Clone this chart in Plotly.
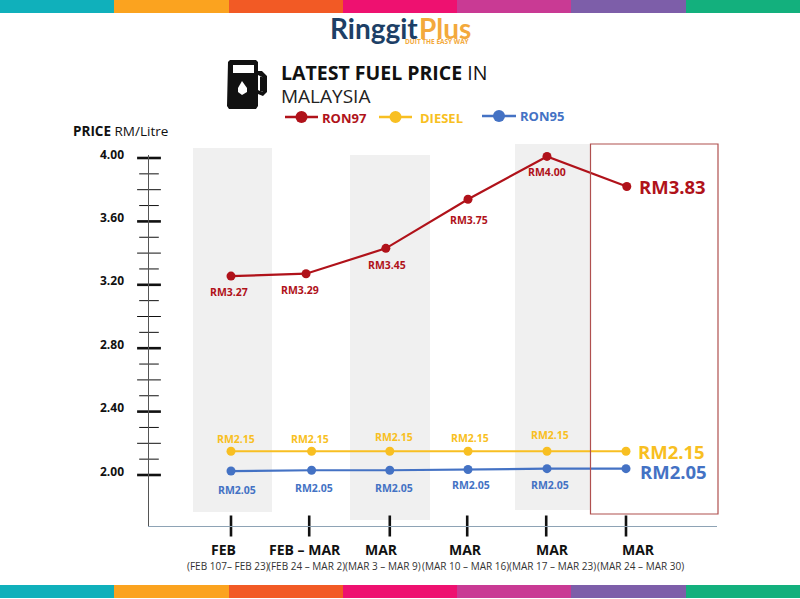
import plotly.graph_objects as go

categories = ["FEB", "FEB – MAR", "MAR", "MAR", "MAR", "MAR"]
date_ranges = ["(FEB 107– FEB 23)", "(FEB 24 – MAR 2)", "(MAR 3 – MAR 9)",
               "(MAR 10 – MAR 16)", "(MAR 17 – MAR 23)", "(MAR 24 – MAR 30)"]
tick_x = [0, 0.99, 2.01, 2.99, 3.99, 5]
ron97_x = [0, 0.95, 1.96, 3, 4, 5.01]
fuel_x = [0, 1.02, 2.01, 3, 4, 5]
ron97 = [3.255, 3.27, 3.43, 3.74, 4.01, 3.82]
diesel = [2.15, 2.15, 2.15, 2.15, 2.15, 2.15]
ron95 = [2.025, 2.03, 2.03, 2.035, 2.04, 2.04]
ron97_labels = ["RM3.27", "RM3.29", "RM3.45", "RM3.75", "RM4.00", "RM3.83"]
diesel_labels = ["RM2.15"] * 6
ron95_labels = ["RM2.05"] * 6
major_ticks = [2.0, 2.4, 2.8, 3.2, 3.6, 4.0]
mid_ticks = [2.2, 2.6, 3.0, 3.4, 3.8]
minor_ticks = [2.1, 2.3, 2.5, 2.7, 2.9, 3.1, 3.3, 3.5, 3.7, 3.9]
stripe_colors = ["#10b0bb", "#fba31f", "#f25a25", "#ee1170", "#c93a94", "#7d5ea9", "#13b07d"]

RED, YEL, BLUE = "#b0121a", "#f8bf22", "#4472c4"
FONT = "Open Sans"
L, R, T, B = 149, 717, 155, 526

def px(x): return (x - L) / (R - L)
def py(y): return (B - y) / (B - T)
x0_val = (L - 231) / 79
x1_val = (R - 231) / 79
y0_val = 2 - (B - 475) / 158.5
y1_val = 2 + (475 - T) / 158.5

fig = go.Figure()
names = ["RON97", "DIESEL", "RON95"]
for nm, xs, vals, col in zip(names, [ron97_x, fuel_x, fuel_x], [ron97, diesel, ron95], [RED, YEL, BLUE]):
    fig.add_trace(go.Scatter(x=xs, y=vals, name=nm, mode="lines+markers", cliponaxis=False,
                             line=dict(color=col, width=2.2), marker=dict(color=col, size=9)))
for vals, size, w in [(major_ticks, 17, 2.6), (mid_ticks, 17, 1), (minor_ticks, 14, 1)]:
    fig.add_trace(go.Scatter(x=[x0_val] * len(vals), y=vals, mode="markers", cliponaxis=False,
                             hoverinfo="skip",
                             marker=dict(symbol="line-ew", size=size, line=dict(color="#111", width=w))))
fig.add_trace(go.Scatter(x=tick_x, y=[y0_val] * 6, mode="markers", cliponaxis=False, hoverinfo="skip",
                         marker=dict(symbol="line-ns", size=15, line=dict(color="#111", width=2.6))))

shapes = []
ann = []
def rect(x0, y0, x1, y1, fill=None, line=None, lw=0, layer="below"):
    shapes.append(dict(type="rect", xref="paper", yref="paper", x0=px(x0), x1=px(x1), y0=py(y0), y1=py(y1),
                       fillcolor=fill or "rgba(0,0,0,0)", line=dict(color=line or "rgba(0,0,0,0)", width=lw), layer=layer))
def text(x, y, s, size, color="#111", bold=False, anchor="center", family=FONT):
    ann.append(dict(xref="paper", yref="paper", x=px(x), y=py(y), text=f"<b>{s}</b>" if bold else s,
                    showarrow=False, xanchor=anchor, yanchor="middle", align="left",
                    font=dict(size=size, color=color, family=family)))

# stripes
edges = [0, 114, 229, 343, 457, 571, 686, 800]
for i, c in enumerate(stripe_colors):
    rect(edges[i], 0, edges[i + 1], 13, fill=c)
    rect(edges[i], 585, edges[i + 1], 598, fill=c)
# bands
rect(193, 148, 272, 512, fill="#f0f0f0")
rect(350, 155, 430, 520, fill="#f0f0f0")
rect(515, 144, 590, 510, fill="#f0f0f0")
rect(590.5, 144, 718, 514, line="#b0504f", lw=1.2, layer="above")

# data labels
r_dx = [-2, -6, 1, 1, 0]; r_dy = [-16, -16, -17, -21, -16]
d_dx = [5, -2, 4, 2, 3]; d_dy = [12, 12, 14, 13, 16]
b_dx = [6, 2, 4, 3, 3]; b_dy = [-19, -18, -18, -16, -16]
for xs, vals, labs, col, dxs, dys in [(ron97_x, ron97, ron97_labels, RED, r_dx, r_dy),
                                      (fuel_x, diesel, diesel_labels, YEL, d_dx, d_dy),
                                      (fuel_x, ron95, ron95_labels, BLUE, b_dx, b_dy)]:
    for i in range(5):
        ann.append(dict(x=xs[i], y=vals[i], xref="x", yref="y", text=f"<b>{labs[i]}</b>", showarrow=False,
                        xshift=dxs[i], yshift=dys[i], font=dict(size=10.5, color=col, family=FONT)))
    dy = {RED: 0, YEL: 0, BLUE: -3}[col]
    ann.append(dict(x=xs[5], y=vals[5], xref="x", yref="y", text=f"<b>{labs[5]}</b>", showarrow=False,
                    xanchor="left", xshift=10 + (2 if col == BLUE else 0), yshift=dy,
                    font=dict(size=18.5, color=col, family=FONT)))

# y tick labels, sitting a little above their ticks as in the reference
for v in major_ticks:
    ann.append(dict(x=px(125.5), y=v, xref="paper", yref="y", text=f"<b>{v:.2f}</b>", showarrow=False,
                    xanchor="right", yshift=4, font=dict(size=12, color="#111", family=FONT)))

# x labels
for c, cx in zip(categories, [223, 305, 381, 465, 552, 638]):
    text(cx, 549.5, c, 14, bold=True)
for d, cx in zip(date_ranges, [228, 306, 383, 465, 552, 640]):
    text(cx, 566, d, 10, color="#333")

text(71, 131, "<b>PRICE</b> RM/Litre", 13.5, anchor="left")
# logo
text(328, 27.5, "<b>Ringgit</b>", 28, color="#1d3f66", anchor="left", family="Lato")
text(417, 27.5, "<b>Plus</b>", 28, color="#f3a93c", anchor="left", family="Lato")
text(437, 42, "<b>DUIT THE EASY WAY</b>", 6.5, color="#f3a93c", anchor="center")
# heading
text(279, 72, "<b>LATEST FUEL PRICE</b> IN", 19.5, anchor="left")
text(279, 96, "MALAYSIA", 19, color="#222", anchor="left")

# pump icon
def path(pts):
    return " ".join(f"{c} {px(x):.5f},{py(y):.5f}" if c != "Z" else "Z" for c, x, y in pts)
def add_path(pts, fill):
    shapes.append(dict(type="path", xref="paper", yref="paper", path=path(pts), fillcolor=fill,
                       line=dict(width=0), layer="above"))
add_path([("M", 230, 60), ("L", 256, 60), ("L", 258, 62), ("L", 258, 71), ("L", 262, 71), ("L", 267, 76),
          ("L", 267, 92), ("L", 263, 96), ("L", 258, 94), ("L", 258, 106), ("L", 256, 109), ("L", 229, 109),
          ("L", 227, 106), ("L", 228, 62), ("Z", 0, 0)], "#111")
add_path([("M", 258, 75), ("L", 262, 77), ("L", 264, 80), ("L", 264, 90), ("L", 262, 92), ("L", 258, 90), ("Z", 0, 0)], "#fff")
add_path([("M", 260, 76.5), ("L", 265, 78), ("L", 265, 91), ("L", 260, 92), ("Z", 0, 0)], "#111")
add_path([("M", 233, 65), ("L", 254, 65), ("L", 254, 73), ("L", 233, 73), ("Z", 0, 0)], "#fff")
add_path([("M", 242, 81), ("L", 247, 88), ("L", 247, 92), ("L", 242, 95), ("L", 238, 92), ("L", 238, 88), ("Z", 0, 0)], "#fff")

# legend
for x0, x1, y, col, nm, tx in [(285, 318, 117, RED, "RON97", 320), (379, 412, 117, YEL, "DIESEL", 418),
                               (482, 516, 116, BLUE, "RON95", 518)]:
    shapes.append(dict(type="line", xref="paper", yref="paper", x0=px(x0), x1=px(x1), y0=py(y), y1=py(y),
                       line=dict(color=col, width=2.5), layer="above"))
    cx = (x0 + x1) / 2
    shapes.append(dict(type="circle", xref="paper", yref="paper", x0=px(cx - 6), x1=px(cx + 6),
                       y0=py(y - 6), y1=py(y + 6), fillcolor=col, line=dict(width=0), layer="above"))
    text(tx, y + 0.5, nm, 13, color=col, bold=True, anchor="left")

fig.update_layout(
    width=800, height=599, autosize=False, showlegend=False, plot_bgcolor="white", paper_bgcolor="white",
    margin=dict(l=L, r=800 - R, t=T, b=599 - B), shapes=shapes, annotations=ann,
    font=dict(family=FONT),
    xaxis=dict(range=[x0_val, x1_val], showgrid=False, zeroline=False, showticklabels=False, ticks="",
               showline=True, linecolor="#8ea3b5", linewidth=1.2),
    yaxis=dict(range=[y0_val, y1_val], showgrid=False, zeroline=False, showticklabels=False, ticks="",
               showline=True, linecolor="#555", linewidth=1.2),
)
fig.write_html("out.html", config=dict(displayModeBar=False),
               post_script="document.body.style.margin='0';document.body.style.overflow='hidden';")
